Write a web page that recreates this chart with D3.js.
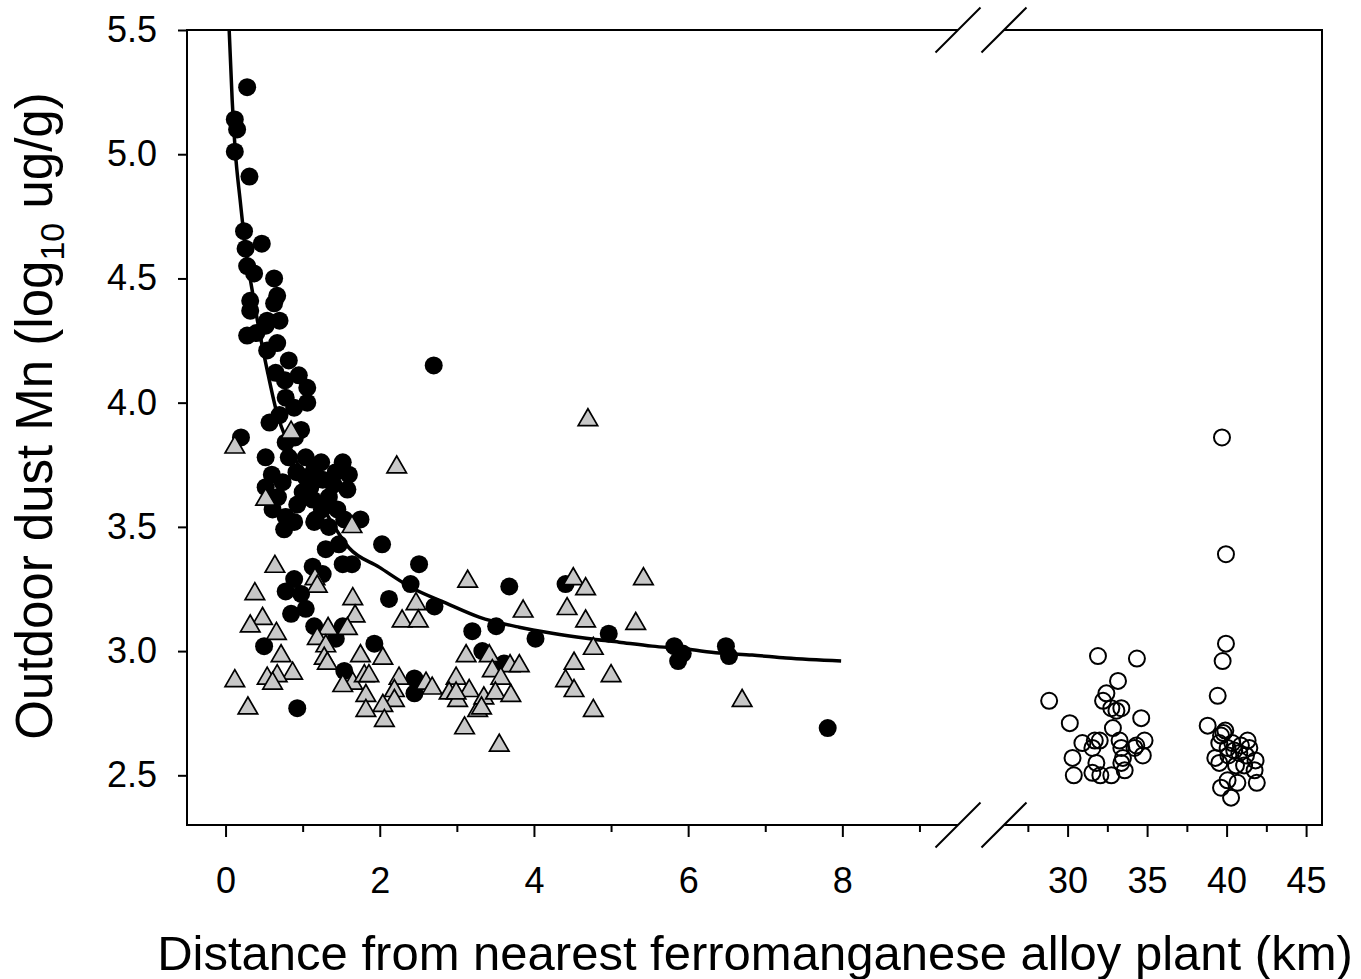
<!DOCTYPE html>
<html>
<head>
<meta charset="utf-8">
<script src="https://cdn.jsdelivr.net/npm/d3@7"></script>
<style>
  body { margin: 0; background: #fff; }
  text { font-family: "Liberation Sans", Arial, sans-serif; }
</style>
</head>
<body>
<script>
// tick values
const yTicks = [2.5, 3.0, 3.5, 4.0, 4.5, 5.0, 5.5];
const xTicksNear = [0, 2, 4, 6, 8];
const xMinorNear = [1, 3, 5, 7, 9];
const xTicksFar = [30, 35, 40, 45];
const xMinorFar = [27.5, 32.5, 37.5, 42.5];

// black dots (near the plants)
const blackDots = [
  [0.28, 5.27], [0.12, 5.14], [0.15, 5.10], [0.12, 5.01], [0.31, 4.91],
  [0.24, 4.69], [0.26, 4.62], [0.47, 4.64], [0.28, 4.55], [0.37, 4.52],
  [0.63, 4.50], [0.67, 4.43], [0.63, 4.40], [0.32, 4.41], [0.32, 4.37],
  [0.54, 4.33], [0.70, 4.33], [0.28, 4.27], [0.40, 4.28], [0.52, 4.31],
  [0.67, 4.24], [0.54, 4.21], [0.82, 4.17], [0.65, 4.12], [0.95, 4.11],
  [0.77, 4.09], [1.06, 4.06], [0.78, 4.02], [1.06, 4.00], [0.89, 3.98],
  [0.57, 3.92], [0.70, 3.95], [0.98, 3.89], [0.20, 3.86], [0.78, 3.84],
  [0.52, 3.78], [0.82, 3.78], [1.04, 3.78], [1.24, 3.76], [1.52, 3.76],
  [1.60, 3.71], [1.43, 3.72], [1.26, 3.69], [1.04, 3.70], [0.74, 3.68],
  [0.52, 3.66], [1.58, 3.65], [1.34, 3.62], [1.13, 3.61], [0.93, 3.59],
  [0.61, 3.57], [0.78, 3.54], [1.17, 3.53], [1.34, 3.50], [0.76, 3.49],
  [1.54, 3.53], [1.75, 3.53], [2.03, 3.43], [1.30, 3.41], [1.47, 3.43],
  [2.70, 4.15], [0.89, 3.52], [1.15, 3.52], [1.52, 3.35], [1.64, 3.35],
  [1.13, 3.34], [0.89, 3.29], [1.26, 3.31], [2.51, 3.35], [0.78, 3.24],
  [0.98, 3.23], [0.85, 3.15], [1.04, 3.17], [2.40, 3.27], [2.12, 3.21],
  [2.71, 3.18], [1.15, 3.10], [1.43, 3.05], [1.52, 3.10], [0.50, 3.02],
  [1.93, 3.03], [1.54, 2.92], [2.45, 2.89], [2.45, 2.83], [0.93, 2.77],
  [3.20, 3.08], [3.33, 3.00], [3.68, 3.26], [4.41, 3.27], [3.51, 3.10],
  [4.02, 3.05], [4.97, 3.07], [5.82, 3.02], [5.93, 2.99], [5.87, 2.96],
  [6.49, 3.02], [6.53, 2.98], [7.81, 2.69], [3.61, 2.95],
  [0.92, 3.72], [1.15, 3.73], [1.40, 3.67], [1.00, 3.64], [1.25, 3.57],
  [0.68, 3.62], [1.45, 3.57], [0.90, 3.86], [1.10, 3.66], [0.60, 3.71]
];

// gray triangles
const grayTriangles = [
  [0.12, 3.82], [0.85, 3.88], [2.22, 3.74], [0.52, 3.61], [1.64, 3.50],
  [0.64, 3.34], [1.16, 3.29], [1.19, 3.26], [3.14, 3.28], [0.38, 3.23],
  [1.65, 3.21], [1.68, 3.14], [2.47, 3.19], [0.48, 3.13], [2.29, 3.12],
  [2.50, 3.12], [0.32, 3.10], [0.66, 3.07], [1.33, 3.09], [1.58, 3.09],
  [1.19, 3.05], [1.30, 3.02], [0.72, 2.98], [1.75, 2.98], [2.04, 2.97],
  [1.28, 2.97], [1.32, 2.95], [0.87, 2.91], [0.67, 2.90], [0.54, 2.89],
  [0.61, 2.87], [0.12, 2.88], [1.65, 2.87], [1.52, 2.86], [1.80, 2.90],
  [1.86, 2.90], [2.25, 2.89], [2.60, 2.87], [2.68, 2.85], [2.99, 2.89],
  [2.90, 2.83], [3.16, 2.84], [2.19, 2.84], [1.82, 2.82], [2.19, 2.80],
  [3.01, 2.80], [2.04, 2.78], [1.82, 2.76], [2.06, 2.72], [0.29, 2.77],
  [3.10, 2.69], [3.27, 2.76], [4.70, 3.93], [4.51, 3.29], [4.67, 3.25],
  [5.42, 3.29], [3.86, 3.16], [4.43, 3.17], [4.67, 3.12], [5.32, 3.11],
  [4.77, 3.01], [3.12, 2.98], [3.42, 2.98], [3.69, 2.94], [3.81, 2.94],
  [4.52, 2.95], [3.46, 2.92], [5.00, 2.90], [3.57, 2.89], [4.41, 2.88],
  [4.52, 2.84], [3.35, 2.81], [3.50, 2.83], [3.70, 2.82], [3.32, 2.77],
  [4.77, 2.76], [6.70, 2.80], [3.55, 2.62], [2.99, 2.83]
];

// open dots (reference sites, far away)
const openDots = [
  [39.71, 3.86], [39.96, 3.39], [39.96, 3.03], [39.75, 2.96], [39.44, 2.82],
  [38.81, 2.70], [31.91, 2.98], [34.36, 2.97], [28.84, 2.80], [33.17, 2.88],
  [32.44, 2.83], [32.23, 2.80], [32.75, 2.77], [33.38, 2.77], [33.07, 2.76],
  [34.63, 2.73], [30.14, 2.71], [32.85, 2.69], [30.93, 2.63], [31.56, 2.61],
  [32.02, 2.64], [31.71, 2.64], [33.27, 2.64], [33.38, 2.61], [34.21, 2.61],
  [34.84, 2.64], [34.73, 2.58], [30.31, 2.57], [31.81, 2.55], [33.48, 2.57],
  [33.38, 2.55], [30.39, 2.50], [31.56, 2.51], [32.06, 2.50], [32.75, 2.50],
  [33.59, 2.52], [34.32, 2.62],
  [39.92, 2.68], [39.65, 2.66], [39.54, 2.63], [40.06, 2.61], [40.48, 2.60],
  [40.90, 2.62], [41.32, 2.64], [41.43, 2.61], [40.80, 2.59], [41.22, 2.58],
  [39.29, 2.57], [39.54, 2.55], [40.59, 2.54], [41.82, 2.56], [41.76, 2.52],
  [41.90, 2.47], [40.06, 2.48], [40.68, 2.47], [39.65, 2.45], [40.28, 2.41],
  [39.80, 2.67], [40.36, 2.63], [40.11, 2.58], [41.10, 2.54]
];

// fitted curve
const fitLine = [
  [0.047, 5.50], [0.086, 5.218], [0.125, 5.017], [0.189, 4.816], [0.267, 4.602],
  [0.345, 4.453], [0.436, 4.292], [0.540, 4.131], [0.656, 3.970], [0.851, 3.809],
  [1.084, 3.668], [1.318, 3.548], [1.603, 3.415], [1.992, 3.338], [2.420, 3.254],
  [2.861, 3.193], [3.289, 3.137], [3.808, 3.096], [4.236, 3.072], [4.677, 3.052],
  [5.105, 3.036], [5.533, 3.020], [5.974, 3.008], [6.402, 2.992], [6.830, 2.984],
  [7.271, 2.972], [7.984, 2.960]
];

const width = 1361;
const height = 979;
const fontFam = '"Liberation Sans", Arial, sans-serif';

const svg = d3.select("body").append("svg")
  .attr("width", width)
  .attr("height", height);

const y = d3.scaleLinear().domain([2.3, 5.5]).range([825, 30]);
const xNear = d3.scaleLinear().domain([-0.5, 9.5]).range([187, 958]);
const xFar = d3.scaleLinear().domain([26, 46]).range([1004, 1322]);

const plotTop = y.range()[1], plotBottom = y.range()[0];
const plotLeft = xNear.range()[0], plotRight = xFar.range()[1];

// y axis
const yAxis = svg.append("g")
  .attr("transform", `translate(${plotLeft},0)`)
  .call(d3.axisLeft(y).tickValues(yTicks).tickSize(9).tickPadding(21).tickFormat(d3.format(".1f")));
yAxis.select(".domain").remove();
yAxis.selectAll("line").attr("stroke", "#000").attr("stroke-width", 2);
yAxis.selectAll("text").attr("fill", "#000");
yAxis.attr("font-size", 36).attr("font-family", fontFam);

// x axes, one per segment
function xAxis(scale, major, minor) {
  const g = svg.append("g").attr("transform", `translate(0,${plotBottom})`);
  const gMaj = g.append("g").call(d3.axisBottom(scale).tickValues(major).tickSize(12).tickPadding(30));
  g.append("g").call(d3.axisBottom(scale).tickValues(minor).tickSize(7).tickFormat(""));
  g.selectAll(".domain").remove();
  g.selectAll("line").attr("stroke", "#000").attr("stroke-width", 2);
  gMaj.selectAll("text").attr("fill", "#000");
  gMaj.attr("font-size", 36).attr("font-family", fontFam);
}
xAxis(xNear, xTicksNear, xMinorNear);
xAxis(xFar, xTicksFar, xMinorFar);

// frame with the axis break
const frame = svg.append("g").attr("stroke", "#000").attr("stroke-width", 2).attr("fill", "none");
const brkL = xNear.range()[1], brkR = xFar.range()[0];
[plotTop, plotBottom].forEach(yy => {
  frame.append("line").attr("x1", plotLeft).attr("x2", brkL).attr("y1", yy).attr("y2", yy);
  frame.append("line").attr("x1", brkR).attr("x2", plotRight).attr("y1", yy).attr("y2", yy);
  [brkL, brkR].forEach(xx => {
    frame.append("line")
      .attr("x1", xx - 22.5).attr("y1", yy + 22.5)
      .attr("x2", xx + 22.5).attr("y2", yy - 22.5);
  });
});
frame.append("line").attr("x1", plotLeft).attr("x2", plotLeft).attr("y1", plotTop - 1).attr("y2", plotBottom + 1);
frame.append("line").attr("x1", plotRight).attr("x2", plotRight).attr("y1", plotTop - 1).attr("y2", plotBottom + 1);

// fitted curve
svg.append("path")
  .datum(fitLine)
  .attr("fill", "none")
  .attr("stroke", "#000")
  .attr("stroke-width", 3.5)
  .attr("d", d3.line().x(d => xNear(d[0])).y(d => y(d[1])).curve(d3.curveMonotoneX));

// black dots
svg.append("g")
  .selectAll("circle")
  .data(blackDots)
  .join("circle")
  .attr("cx", d => xNear(d[0]))
  .attr("cy", d => y(d[1]))
  .attr("r", 9)
  .attr("fill", "#000");

// gray triangles
svg.append("g")
  .selectAll("path")
  .data(grayTriangles)
  .join("path")
  .attr("transform", d => `translate(${xNear(d[0])},${y(d[1])})`)
  .attr("d", d3.symbol(d3.symbolTriangle, 165))
  .attr("fill", "#c8c8c8")
  .attr("stroke", "#000")
  .attr("stroke-width", 1.7);

// open dots
svg.append("g")
  .selectAll("circle")
  .data(openDots)
  .join("circle")
  .attr("cx", d => xFar(d[0]))
  .attr("cy", d => y(d[1]))
  .attr("r", 8)
  .attr("fill", "none")
  .attr("stroke", "#000")
  .attr("stroke-width", 2);

// axis titles
svg.append("text")
  .attr("x", 755)
  .attr("y", 970)
  .attr("text-anchor", "middle")
  .attr("font-size", 49)
  .attr("fill", "#000")
  .text("Distance from nearest ferromanganese alloy plant (km)");

const yTitle = svg.append("text")
  .attr("transform", "translate(52,416) rotate(-90)")
  .attr("text-anchor", "middle")
  .attr("font-size", 51)
  .attr("fill", "#000");
yTitle.append("tspan").text("Outdoor dust Mn (log");
yTitle.append("tspan").attr("font-size", 34).attr("dy", 12).text("10");
yTitle.append("tspan").attr("dy", -12).text(" ug/g)");
</script>
</body>
</html>
